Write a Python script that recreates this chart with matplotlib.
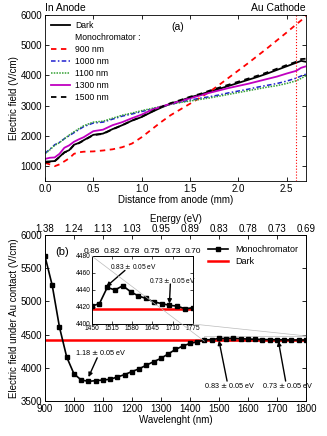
import matplotlib
matplotlib.use("Agg")
import matplotlib.pyplot as plt
import numpy as np
from matplotlib.patches import ConnectionPatch, Rectangle

plt.rcParams['font.family'] = ['Liberation Sans', 'DejaVu Sans']
plt.rcParams['xtick.direction'] = 'in'
plt.rcParams['ytick.direction'] = 'in'
plt.rcParams['axes.linewidth'] = 0.6

# ---------------- data: panel (a) ----------------
dist = [0.0, 0.05, 0.1, 0.15, 0.2, 0.25, 0.3, 0.35, 0.4, 0.5, 0.6, 0.7, 0.8, 0.9,
        1.0, 1.1, 1.2, 1.3, 1.4, 1.5, 1.6, 1.7, 1.8, 1.9, 2.0, 2.1, 2.2, 2.3,
        2.4, 2.5, 2.6, 2.65, 2.7]
dark = [1140, 1150, 1160, 1300, 1450, 1520, 1700, 1760, 1850, 2030, 2070, 2220, 2350, 2500,
        2620, 2780, 2930, 3060, 3160, 3270, 3360, 3460, 3550, 3650, 3750, 3850, 3950, 4060,
        4180, 4300, 4420, 4480, 4450]
nm1500 = [1110, 1130, 1150, 1290, 1440, 1510, 1690, 1750, 1840, 2020, 2060, 2210, 2350, 2500,
          2630, 2790, 2950, 3080, 3180, 3290, 3380, 3490, 3590, 3690, 3790, 3890, 3990, 4100,
          4220, 4340, 4450, 4540, 4550]
nm900 = [1100, 1050, 990, 1050, 1150, 1250, 1400, 1450, 1470, 1480, 1510, 1550, 1620, 1740,
         1950, 2200, 2450, 2680, 2870, 3060, 3250, 3450, 3680, 3920, 4160, 4400, 4650, 4900,
         5160, 5420, 5690, 5820, 5950]
nm1000 = [1420, 1550, 1700, 1780, 1900, 2000, 2100, 2200, 2300, 2420, 2450, 2550, 2650, 2720,
          2800, 2880, 2960, 3040, 3110, 3180, 3240, 3290, 3350, 3420, 3480, 3540, 3610, 3670,
          3730, 3810, 3910, 3980, 4040]
nm1100 = [1400, 1530, 1680, 1770, 1900, 2020, 2130, 2230, 2330, 2450, 2480, 2580, 2680, 2750,
          2830, 2900, 2970, 3040, 3100, 3150, 3200, 3250, 3310, 3370, 3430, 3490, 3550, 3610,
          3660, 3730, 3820, 3900, 3990]
nm1300 = [1230, 1270, 1280, 1400, 1600, 1680, 1800, 1880, 1950, 2150, 2200, 2350, 2450, 2580,
          2700, 2850, 2960, 3060, 3150, 3240, 3330, 3420, 3500, 3580, 3650, 3720, 3800, 3880,
          3960, 4060, 4150, 4250, 4300]

# ---------------- data: panel (b) ----------------
wavelength = [900, 925, 950, 975, 1000, 1025, 1050, 1075, 1100, 1125, 1150, 1175, 1200,
              1225, 1250, 1275, 1300, 1325, 1350, 1375, 1400, 1425, 1450, 1475, 1500,
              1525, 1550, 1575, 1600, 1625, 1650, 1675, 1700, 1725, 1750, 1775, 1800]
field_au = [5680, 5240, 4610, 4160, 3908, 3816, 3796, 3806, 3816, 3827, 3862, 3898, 3944,
            3985, 4041, 4092, 4143, 4209, 4276, 4327, 4367, 4390, 4421, 4424, 4443,
            4440, 4445, 4438, 4433, 4430, 4426, 4424, 4422, 4421, 4418, 4419, 4418]
dark_au = 4418
energy_ticks = [900, 1000, 1100, 1200, 1300, 1400, 1500, 1600, 1700, 1800]
energy_labels = ['1.38', '1.24', '1.13', '1.03', '0.95', '0.89', '0.83', '0.78', '0.73', '0.69']
inset_ticks = [1450, 1515, 1580, 1645, 1710, 1775]
inset_energy_labels = ['0.86', '0.82', '0.78', '0.75', '0.73', '0.70']

fig = plt.figure(figsize=(3.27, 4.36), dpi=100)

# ---------------- panel (a) ----------------
ax1 = fig.add_axes([0.1376, 0.5849, 0.798, 0.3807])
ax1.plot(dist, dark, color='black', lw=1.3, label='Dark')
ax1.plot([], [], ' ', label='Monochromator :')
ax1.plot(dist, nm900, color='red', ls=(0, (3, 2.5)), lw=1.3, label='900 nm')
ax1.plot(dist, nm1000, color='#1f1fd0', ls=(0, (3, 1.5, 1, 1.5)), lw=1.1, label='1000 nm')
ax1.plot(dist, nm1100, color='#33a033', ls=(0, (1, 0.8)), lw=1.1, label='1100 nm')
ax1.plot(dist, nm1300, color='#c000c0', lw=1.3, label='1300 nm')
ax1.plot(dist, nm1500, color='black', ls=(0, (3, 2.5)), lw=1.3, label='1500 nm')
ax1.axvline(2.6, color='red', ls=':', lw=0.8)
ax1.set_xlim(0, 2.7)
ax1.set_ylim(500, 6000)
ax1.set_xticks([0.0, 0.5, 1.0, 1.5, 2.0, 2.5])
ax1.set_yticks([1000, 2000, 3000, 4000, 5000, 6000])
ax1.tick_params(labelsize=7, top=True, right=True, length=3, width=0.6, pad=2)
ax1.set_xlabel('Distance from anode (mm)', fontsize=7, labelpad=1)
ax1.set_ylabel('Electric field (V/cm)', fontsize=7, labelpad=1)
ax1.text(0.0, 1.01, 'In Anode', transform=ax1.transAxes, fontsize=7.5, ha='left', va='bottom')
ax1.text(1.0, 1.01, 'Au Cathode', transform=ax1.transAxes, fontsize=7.5, ha='right', va='bottom')
ax1.text(0.51, 0.96, '(a)', transform=ax1.transAxes, fontsize=7.5, ha='center', va='top')
ax1.legend(loc='upper left', fontsize=6.2, frameon=False, handlelength=2.2,
           labelspacing=0.35, borderaxespad=0.3, handletextpad=0.6)

# ---------------- panel (b) ----------------
ax2 = fig.add_axes([0.1376, 0.0803, 0.798, 0.3807])
ax2.axhline(dark_au, color='red', lw=1.8, label='Dark', zorder=2)
ax2.plot(wavelength, field_au, color='black', marker='s', ms=3.2, lw=1.2,
         label='Monochromator', zorder=3)
ax2.set_xlim(900, 1800)
ax2.set_ylim(3500, 6000)
ax2.set_xticks(energy_ticks)
ax2.set_yticks([3500, 4000, 4500, 5000, 5500, 6000])
ax2.tick_params(labelsize=7, right=True, length=3, width=0.6, pad=2)
ax2.set_xlabel('Wavelenght (nm)', fontsize=7, labelpad=1)
ax2.set_ylabel('Electric field under Au contact (V/cm)', fontsize=7, labelpad=1)
ax2.text(0.04, 0.9, '(b)', transform=ax2.transAxes, fontsize=8, ha='left', va='center')
h, l = ax2.get_legend_handles_labels()
ax2.legend(h[::-1], l[::-1], loc='upper right', bbox_to_anchor=(1.0, 0.99), fontsize=6.5,
           frameon=False, handlelength=2.2, labelspacing=0.4)

ax2t = ax2.twiny()
ax2t.set_xlim(ax2.get_xlim())
ax2t.set_xticks(energy_ticks)
ax2t.set_xticklabels(energy_labels)
ax2t.tick_params(labelsize=7, length=3, width=0.6, pad=1, direction='in')
ax2t.set_xlabel('Energy (eV)', fontsize=7, labelpad=1)

arrow_kw = dict(arrowstyle='-|>', color='black', lw=1.0, mutation_scale=6,
                shrinkA=0, shrinkB=0)
ax2.text(1002, 4230, '1.18 $\\pm$ 0.05 eV', fontsize=5.2, ha='left', va='center')
ax2.annotate('', xy=(1050, 3860), xytext=(1080, 4150), arrowprops=arrow_kw)
ax2.text(1535, 3740, '0.83 $\\pm$ 0.05 eV', fontsize=5.2, ha='center', va='center')
ax2.annotate('', xy=(1500, 4410), xytext=(1528, 3800), arrowprops=arrow_kw)
ax2.text(1737, 3740, '0.73 $\\pm$ 0.05 eV', fontsize=5.2, ha='center', va='center')
ax2.annotate('', xy=(1705, 4400), xytext=(1730, 3800), arrowprops=arrow_kw)

# zoom rectangle in main
ax2.add_patch(Rectangle((1450, 4400), 350, 80, fill=False, ec='#bbbbbb', lw=0.5, zorder=1))

# ---------------- inset ----------------
ax3 = fig.add_axes([0.2804, 0.2569, 0.309, 0.156])
ax3.axhline(dark_au, color='red', lw=1.8, zorder=2)
ax3.plot(wavelength, field_au, color='black', marker='s', ms=3.2, lw=1.2, zorder=3)
ax3.set_xlim(1450, 1775)
ax3.set_ylim(4400, 4480)
ax3.set_xticks(inset_ticks)
ax3.set_yticks([4400, 4420, 4440, 4460, 4480])
ax3.tick_params(labelsize=4.8, right=True, length=2, width=0.5, pad=1)
ax3t = ax3.twiny()
ax3t.set_xlim(ax3.get_xlim())
ax3t.set_xticks(inset_ticks)
ax3t.set_xticklabels(inset_energy_labels)
ax3t.tick_params(labelsize=6, length=2, width=0.5, pad=1, direction='in')
ax3.text(1585, 4468, '0.83 $\\pm$ 0.05 eV', fontsize=4.8, ha='center', va='center')
ax3.annotate('', xy=(1497, 4444), xytext=(1557, 4463), arrowprops=arrow_kw)
ax3.text(1710, 4451, '0.73 $\\pm$ 0.05 eV', fontsize=4.8, ha='center', va='center')
ax3.annotate('', xy=(1700, 4424), xytext=(1703, 4447), arrowprops=arrow_kw)

c1 = ConnectionPatch(xyA=(0, 1), coordsA=ax3.transAxes, xyB=(1450, 4400), coordsB=ax2.transData,
                     color='#bbbbbb', lw=0.5, zorder=10)
c2 = ConnectionPatch(xyA=(1, 0), coordsA=ax3.transAxes, xyB=(1800, 4480), coordsB=ax2.transData,
                     color='#bbbbbb', lw=0.5, zorder=10)
fig.add_artist(c1)
fig.add_artist(c2)

fig.savefig('out.png', dpi=100)
